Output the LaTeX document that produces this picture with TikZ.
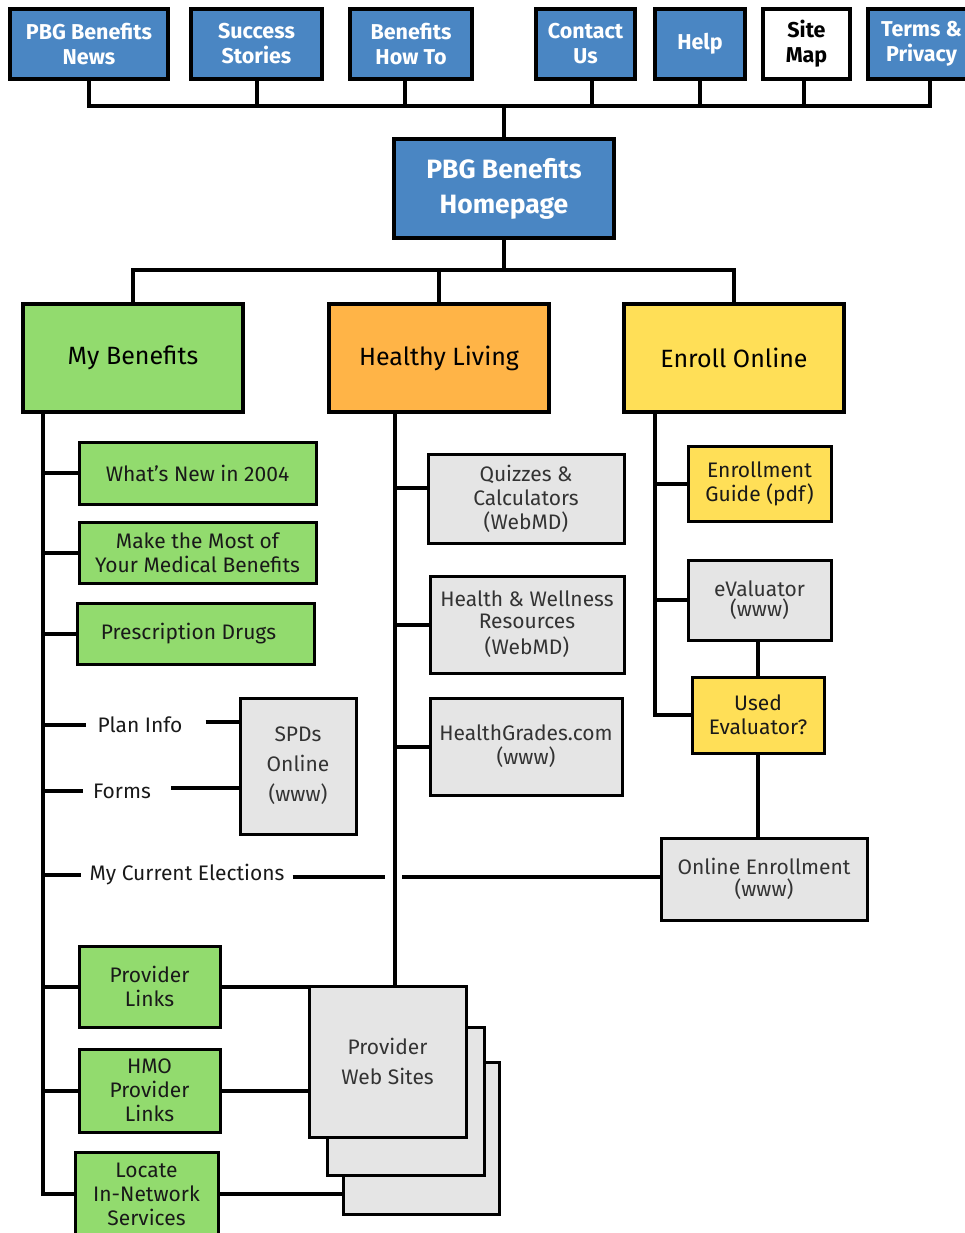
\documentclass[tikz,border=0pt]{standalone}
\usepackage{fontspec}
\setmainfont{Fira Sans}
\definecolor{bluefill}{HTML}{4A86C3}
\definecolor{greenfill}{HTML}{92DB6E}
\definecolor{orangefill}{HTML}{FFB447}
\definecolor{yellowfill}{HTML}{FFDF57}
\definecolor{grayfill}{HTML}{E5E5E5}
\begin{document}
\begin{tikzpicture}[x=1pt,y=-1pt,
  every node/.style={inner sep=0pt, align=center},
  base/.style={draw=black, rectangle},
  topbox/.style={base, line width=4pt, fill=bluefill, text=white, font=\bfseries\fontsize{21.5}{25}\selectfont, minimum height=70pt},
  homebox/.style={base, line width=4pt, fill=bluefill, text=white, font=\bfseries\fontsize{26.5}{35}\selectfont},
  secbox/.style={base, line width=4pt, font=\fontsize{25}{30}\selectfont, minimum width=220pt, minimum height=108pt},
  kid/.style={base, line width=3pt, font=\fontsize{21}{24}\selectfont, text=black!90},
  greenkid/.style={kid, fill=greenfill},
  yellowkid/.style={kid, fill=yellowfill},
  graykid/.style={kid, fill=grayfill, text=black!80},
  lbl/.style={font=\fontsize{21}{24}\selectfont, text=black!90},
  conn/.style={draw=black, line width=4pt}
]
\useasboundingbox (0,0) rectangle (965,1233);

% top row
\node[topbox, minimum width=158pt] (news) at (89,44) {PBG Benefits\\News};
\node[topbox, minimum width=131pt] (success) at (256.5,44) {Success\\Stories};
\node[topbox, minimum width=122pt] (howto) at (411,44) {Benefits\\How To};
\node[topbox, minimum width=99pt] (contact) at (585.5,44) {Contact\\Us};
\node[topbox, minimum width=90pt] (help) at (700,44) {Help};
\node[topbox, minimum width=87pt, fill=white, text=black] (sitemap) at (806.5,44) {Site\\Map};
\node[topbox, minimum width=107pt] (terms) at (921.5,44) {Terms \&\\Privacy};

\node[homebox, minimum width=220pt, minimum height=99pt] (home) at (504,188.5) {PBG Benefits\\Homepage};

\coordinate (termsdrop) at ([xshift=8pt]terms.south);
\draw[conn] (news.south) -- (news.south |- 0,106) -- (termsdrop |- 0,106) -- (termsdrop);
\draw[conn] (success.south) -- (success.south |- 0,106);
\draw[conn] ([xshift=-6pt]howto.south) -- ([xshift=-6pt]howto.south |- 0,106);
\draw[conn] ([xshift=6pt]contact.south) -- ([xshift=6pt]contact.south |- 0,106);
\draw[conn] (help.south) -- (help.south |- 0,106);
\draw[conn] ([xshift=-3pt]sitemap.south) -- ([xshift=-3pt]sitemap.south |- 0,106);
\draw[conn] (home.north) -- (home.north |- 0,106);

% level 2
\node[secbox, fill=greenfill] (mybenefits) at (133,358) {My Benefits};
\node[secbox, fill=orangefill] (healthy) at (439,358) {Healthy Living};
\node[secbox, fill=yellowfill] (enroll) at (734,358) {Enroll Online};

\draw[conn] (home.south) -- (home.south |- 0,270);
\draw[conn] (mybenefits.north) -- (mybenefits.north |- 0,270) -- (enroll.north |- 0,270) -- (enroll.north);
\draw[conn] (healthy.north) -- (healthy.north |- 0,270);

% My Benefits children
\node[greenkid, minimum width=237pt, minimum height=62pt] (whatsnew) at (197.5,473) {What’s New in 2004};
\node[greenkid, minimum width=237pt, minimum height=61pt] (makemost) at (197.5,552.5) {Make the Most of\\Your Medical Benefits};
\node[greenkid, minimum width=237pt, minimum height=61pt] (rx) at (195.5,633.5) {Prescription Drugs\hspace*{14pt}};
\node[graykid, minimum width=116pt, minimum height=136pt, font=\fontsize{21}{30}\selectfont] (spd) at (298,766) {SPDs\\Online\\(www)};
\node[lbl, inner xsep=11pt] (planinfo) at (140,725) {Plan Info};
\node[lbl, inner xsep=10pt] (forms) at (122,791) {Forms};
\node[lbl, inner xsep=8pt] (elections) at (187,875) {My Current Elections};
\node[greenkid, minimum width=141pt, minimum height=81pt] (provlinks) at (149.5,986.5) {Provider\\Links};
\node[greenkid, minimum width=141pt, minimum height=83pt] (hmo) at (149.5,1090.5) {HMO\\Provider\\Links};
\node[greenkid, minimum width=143pt, minimum height=84pt] (locate) at (146.5,1194) {Locate\\In-Network\\Services};

% provider web sites stack
\node[graykid, minimum width=156pt, minimum height=152pt] (pws3) at (421,1138) {};
\node[graykid, minimum width=157pt, minimum height=148pt] (pws2) at (405.5,1101) {};
\node[graykid, minimum width=157pt, minimum height=151pt, font=\fontsize{21}{30}\selectfont] (pws1) at (387.5,1061.5) {Provider\\Web Sites};

% Healthy Living children
\node[graykid, minimum width=196pt, minimum height=89pt] (quiz) at (526,498.5) {Quizzes \&\\Calculators\\(WebMD)};
\node[graykid, minimum width=194pt, minimum height=97pt, font=\fontsize{21}{22}\selectfont] (health) at (527,624.5) {Health \& Wellness\\Resources\\[4pt](WebMD)};
\node[graykid, minimum width=192pt, minimum height=97pt] (grades) at (526,746.5) {HealthGrades.com\\(www)};

% Enroll Online children
\node[yellowkid, minimum width=143pt, minimum height=75pt] (guide) at (759.5,483.5) {Enrollment\\Guide (pdf)};
\node[graykid, minimum width=143pt, minimum height=80pt, font=\fontsize{21}{20}\selectfont] (evaluator) at (759.5,600) {eValuator\\(www)};
\node[yellowkid, minimum width=132pt, minimum height=76pt] (used) at (758,715) {Used\\Evaluator?};
\node[graykid, minimum width=206pt, minimum height=82pt, font=\fontsize{21}{22}\selectfont] (onlineenr) at (764,879) {Online Enrollment\\(www)};

% My Benefits connectors
\coordinate (mbx) at (43,412);
\draw[conn] (mbx) |- (locate.west);
\draw[conn] (mbx |- whatsnew.west) -- (whatsnew.west);
\draw[conn] (mbx |- makemost.west) -- (makemost.west);
\draw[conn] (mbx |- rx.west) -- (rx.west);
\draw[conn] (mbx |- planinfo.west) -- (planinfo.west);
\draw[conn] ([xshift=12pt,yshift=3pt]planinfo.east) -- ([yshift=3pt]spd.west |- planinfo.east);
\draw[conn] (mbx |- forms.west) -- (forms.west);
\draw[conn] ([xshift=10pt,yshift=3pt]forms.east) -- ([yshift=3pt]spd.west |- forms.east);
\draw[conn] (mbx |- elections.west) -- (elections.west);
\coordinate (gapL) at (385,877);
\coordinate (gapR) at (402,877);
\draw[conn] (elections.east |- gapL) -- (gapL);
\draw[conn] (gapR) -- (gapR -| onlineenr.west);
\draw[conn] (mbx |- provlinks.west) -- (provlinks.west);
\draw[conn] (mbx |- hmo.west) -- (hmo.west);
\draw[conn] (provlinks.east) -- (provlinks.east -| pws1.west);
\draw[conn] (hmo.east) -- (hmo.east -| pws1.west);
\draw[conn] (locate.east) -- (locate.east -| pws3.west);

% Healthy Living connectors
\coordinate (hlx) at (395,412);
\draw[conn] (hlx) -- (hlx |- pws1.north);
\coordinate (quizy) at (428,488);
\draw[conn] (hlx |- quizy) -- (quiz.west |- quizy);
\draw[conn] (hlx |- health.west) -- (health.west);
\draw[conn] (hlx |- grades.west) -- (grades.west);

% Enroll Online connectors
\coordinate (enx) at (655,412);
\draw[conn] (enx) |- (used.west);
\draw[conn] (enx |- guide.west) -- (guide.west);
\draw[conn] (enx |- evaluator.west) -- (evaluator.west);
\draw[conn] (evaluator.south -| used.north) -- (used.north);
\draw[conn] (used.south) -- (used.south |- onlineenr.north);
\end{tikzpicture}
\end{document}
